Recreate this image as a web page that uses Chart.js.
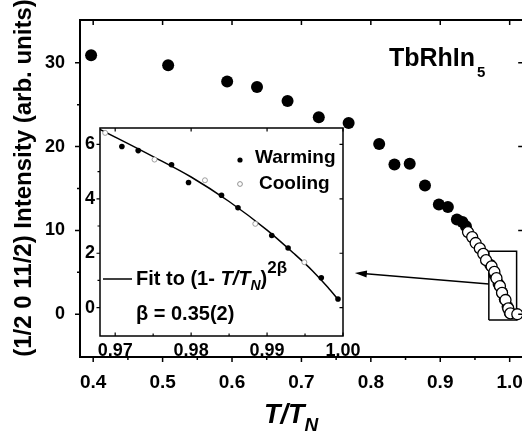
<!DOCTYPE html>
<html>
<head>
<meta charset="utf-8">
<script src="https://cdn.jsdelivr.net/npm/chart.js@4.4.1/dist/chart.umd.min.js"></script>
<style>
    html, body { margin: 0; padding: 0; background: #fff; overflow: hidden; }
    #wrap { position: relative; width: 522px; height: 443px; overflow: hidden; }
    #mainChart { position: absolute; left: 0; top: 0; width: 530px; height: 443px; }
    #insetChart { position: absolute; left: 60px; top: 110px; width: 300px; height: 260px; }
</style>
</head>
<body>
<div id="wrap">
    <canvas id="mainChart" width="530" height="443"></canvas>
    <canvas id="insetChart" width="300" height="260"></canvas>
</div>
<script>
// main panel, T/TN vs intensity
const mainWarmX = [0.397, 0.508, 0.593, 0.636, 0.680, 0.725, 0.768, 0.812, 0.834, 0.856, 0.878,
    0.898, 0.911, 0.924, 0.932, 0.937, 0.972, 0.978, 0.984, 0.989, 0.993, 0.997, 1.000];
const mainWarmY = [30.9, 29.7, 27.75, 27.1, 25.45, 23.5, 22.8, 20.3, 17.85, 17.95, 15.35,
    13.1, 12.8, 11.3, 11.0, 10.5, 5.9, 4.7, 3.6, 2.6, 1.8, 0.9, 0.2];
const mainCoolX = [0.940, 0.946, 0.951, 0.957, 0.962, 0.966, 0.974, 0.978, 0.981, 0.986,
    0.989, 0.994, 0.998, 1.001, 1.011];
const mainCoolY = [9.8, 9.2, 8.5, 7.85, 7.2, 6.45, 5.7, 5.05, 4.3, 3.35, 2.55, 1.7, 0.7, 0.1, 0.0];

// zoom box and arrow on the main panel
const boxX = [0.970, 1.010, 1.010, 0.970, 0.970];
const boxY = [-0.7, -0.7, 7.5, 7.5, -0.7];
const arrowX = [0.970, 0.777];
const arrowY = [3.6, 4.93];

const mainXTicks = [0.4, 0.5, 0.6, 0.7, 0.8, 0.9, 1.0];
const mainXMinor = [0.45, 0.55, 0.65, 0.75, 0.85, 0.95];
const mainYTicks = [0, 10, 20, 30];
const mainYMinor = [-5, 5, 15, 25, 35];

// inset, close to T_N
const insetWarmX = [0.97088, 0.97303, 0.97742, 0.97966, 0.98400, 0.98617, 0.99062, 0.99277, 0.99714, 0.99934];
const insetWarmY = [5.92, 5.77, 5.25, 4.60, 4.13, 3.67, 2.65, 2.19, 1.10, 0.32];
const insetCoolX = [0.96868, 0.97518, 0.98182, 0.98845, 0.99491];
const insetCoolY = [6.42, 5.44, 4.68, 3.08, 1.67];
const fitX = [0.9680, 0.9750, 0.9800, 0.9850, 0.9900, 0.9935, 0.9960, 0.9980, 0.9995];
const fitY = [6.55, 5.55, 4.80, 3.90, 2.85, 2.00, 1.35, 0.75, 0.25];

const insetXTicks = [0.97, 0.98, 0.99, 1.00];
const insetXMinor = [0.975, 0.985, 0.995];
const insetYTicks = [0, 2, 4, 6];
const insetYMinor = [1, 3, 5];

const FONT = "'Liberation Sans', Arial, sans-serif";

function pts(xs, ys) {
    return xs.map((x, i) => ({x: x, y: ys[i]}));
}

// fixed axis size, and no extra room for the end labels
function fixSize(prop, size) {
    return s => {
        s[prop] = size;
        s.paddingLeft = s.paddingRight = s.paddingTop = s.paddingBottom = 0;
    };
}

// box with ticks, drawn from the scales
const frameTicks = {
    id: 'frameTicks',
    afterDraw(chart, args, o) {
        const ctx = chart.ctx, a = chart.chartArea;
        const xs = chart.scales.x, ys = chart.scales.y;
        ctx.save();
        ctx.strokeStyle = '#000';
        ctx.lineWidth = o.frameWidth;
        ctx.strokeRect(a.left, a.top, a.right - a.left, a.bottom - a.top);
        ctx.lineWidth = o.tickWidth;
        ctx.beginPath();
        const seg = (x1, y1, x2, y2) => { ctx.moveTo(x1, y1); ctx.lineTo(x2, y2); };
        o.xMajor.forEach(v => {
            const p = xs.getPixelForValue(v);
            seg(p, a.bottom, p, a.bottom + o.bottomDir * o.major);
            seg(p, a.top, p, a.top + o.major);
        });
        o.xMinor.forEach(v => {
            const p = xs.getPixelForValue(v);
            seg(p, a.bottom, p, a.bottom + o.bottomDir * o.minor);
        });
        o.yMajor.forEach(v => {
            const p = ys.getPixelForValue(v);
            seg(a.left, p, a.left - o.major, p);
            seg(a.right, p, a.right - o.major, p);
        });
        o.yMinor.forEach(v => {
            const p = ys.getPixelForValue(v);
            if (p > a.top + 1 && p < a.bottom - 1) seg(a.left, p, a.left - o.minor, p);
        });
        ctx.stroke();
        ctx.restore();
    }
};

// arrow + labels on the main panel
const mainDecor = {
    id: 'mainDecor',
    afterDatasetsDraw(chart) {
        const ctx = chart.ctx, xs = chart.scales.x, ys = chart.scales.y;
        ctx.save();
        const x0 = xs.getPixelForValue(arrowX[0]), y0 = ys.getPixelForValue(arrowY[0]);
        const x1 = xs.getPixelForValue(arrowX[1]), y1 = ys.getPixelForValue(arrowY[1]);
        const ang = Math.atan2(y1 - y0, x1 - x0);
        ctx.strokeStyle = '#000';
        ctx.fillStyle = '#000';
        ctx.lineWidth = 1.5;
        ctx.beginPath();
        ctx.moveTo(x0, y0);
        ctx.lineTo(x1 - 8 * Math.cos(ang), y1 - 8 * Math.sin(ang));
        ctx.stroke();
        ctx.translate(x1, y1);
        ctx.rotate(ang);
        ctx.beginPath();
        ctx.moveTo(0, 0);
        ctx.lineTo(-12, -3.5);
        ctx.lineTo(-12, 3.5);
        ctx.closePath();
        ctx.fill();
        ctx.restore();

        ctx.save();
        ctx.fillStyle = '#000';
        ctx.textBaseline = 'alphabetic';
        ctx.font = 'bold 25px ' + FONT;
        ctx.fillText('TbRhIn', 389, 66);
        let w = ctx.measureText('TbRhIn').width;
        ctx.font = 'bold 15px ' + FONT;
        ctx.fillText('5', 389 + w + 2, 77);

        ctx.font = 'italic bold 27px ' + FONT;
        ctx.fillText('T/T', 264, 423);
        w = ctx.measureText('T/T').width;
        ctx.font = 'italic bold 19px ' + FONT;
        ctx.fillText('N', 264 + w, 431);

        // y axis title
        ctx.translate(24, 178);
        ctx.rotate(-Math.PI / 2);
        ctx.textAlign = 'center';
        ctx.textBaseline = 'middle';
        ctx.font = 'bold 24px ' + FONT;
        ctx.fillText('(1/2 0 11/2) Intensity (arb. units)', 0, 0);
        ctx.restore();
    }
};

// legend + fit text in the inset
const insetDecor = {
    id: 'insetDecor',
    afterDraw(chart) {
        const ctx = chart.ctx;
        const ox = 60, oy = 110;   // inset canvas offset on the page
        ctx.save();
        ctx.translate(-ox, -oy);
        ctx.fillStyle = '#000';
        ctx.strokeStyle = '#000';
        ctx.beginPath();
        ctx.arc(240, 160, 2.6, 0, Math.PI * 2);
        ctx.fill();
        ctx.lineWidth = 0.8;
        ctx.strokeStyle = '#777';
        ctx.beginPath();
        ctx.arc(240, 184, 2.4, 0, Math.PI * 2);
        ctx.stroke();

        ctx.font = 'bold 19px ' + FONT;
        ctx.textBaseline = 'alphabetic';
        ctx.fillText('Warming', 255, 163);
        ctx.fillText('Cooling', 259, 189);

        ctx.strokeStyle = '#000';
        ctx.lineWidth = 1.5;
        ctx.beginPath();
        ctx.moveTo(103, 279);
        ctx.lineTo(132, 279);
        ctx.stroke();
        let x = 136;
        ctx.font = 'bold 20px ' + FONT;
        ctx.fillText('Fit to (1- ', x, 285);
        x += ctx.measureText('Fit to (1- ').width;
        ctx.font = 'italic bold 20px ' + FONT;
        ctx.fillText('T/T', x, 285);
        x += ctx.measureText('T/T').width;
        ctx.font = 'italic bold 14px ' + FONT;
        ctx.fillText('N', x, 290);
        x += ctx.measureText('N').width;
        ctx.font = 'bold 20px ' + FONT;
        ctx.fillText(')', x, 285);
        x += ctx.measureText(')').width;
        ctx.font = 'bold 17px ' + FONT;
        ctx.fillText('2\u03B2', x, 273);

        ctx.font = 'bold 20px ' + FONT;
        ctx.fillText('\u03B2 = 0.35(2)', 136, 320);
        ctx.restore();
    }
};

const mainData = {
    datasets: [
        {
            label: 'Cooling',
            data: pts(mainCoolX, mainCoolY),
            showLine: false,
            pointRadius: 5.5,
            pointBackgroundColor: '#fff',
            pointBorderColor: '#000',
            pointBorderWidth: 1.3,
            order: 1
        },
        {
            label: 'Warming',
            data: pts(mainWarmX, mainWarmY),
            showLine: false,
            pointRadius: 6,
            pointBackgroundColor: '#000',
            pointBorderColor: '#000',
            pointBorderWidth: 0,
            order: 2
        },
        {
            label: 'box',
            data: pts(boxX, boxY),
            showLine: true,
            borderColor: '#000',
            borderWidth: 1.5,
            pointRadius: 0,
            fill: false,
            order: 3
        }
    ]
};

const mainConfig = {
    type: 'scatter',
    data: mainData,
    options: {
        responsive: false,
        animation: false,
        events: [],
        layout: { padding: { left: 0, top: 20, right: 6, bottom: 0 } },
        plugins: {
            legend: { display: false },
            tooltip: { enabled: false },
            frameTicks: {
                frameWidth: 2, tickWidth: 1.5, major: 5, minor: 3, bottomDir: 1,
                xMajor: mainXTicks, xMinor: mainXMinor, yMajor: mainYTicks, yMinor: mainYMinor
            }
        },
        scales: {
            x: {
                type: 'linear',
                min: 0.381,
                max: 1.0195,
                afterBuildTicks: s => { s.ticks = mainXTicks.map(v => ({value: v})); },
                afterFit: fixSize('height', 86),
                grid: { display: false, drawTicks: false },
                border: { display: false },
                ticks: {
                    color: '#000',
                    padding: 14,
                    maxRotation: 0,
                    font: { family: FONT, size: 19, weight: 'bold' },
                    callback: v => v.toFixed(1)
                }
            },
            y: {
                type: 'linear',
                min: -5.1,
                max: 35.1,
                afterBuildTicks: s => { s.ticks = mainYTicks.map(v => ({value: v})); },
                afterFit: fixSize('width', 80),
                grid: { display: false, drawTicks: false },
                border: { display: false },
                ticks: {
                    color: '#000',
                    padding: 15,
                    font: { family: FONT, size: 18, weight: 'bold' }
                }
            }
        }
    },
    plugins: [frameTicks, mainDecor]
};

const insetConfig = {
    type: 'scatter',
    data: {
        datasets: [
            {
                label: 'Warming',
                data: pts(insetWarmX, insetWarmY),
                showLine: false,
                pointRadius: 2.8,
                pointBackgroundColor: '#000',
                pointBorderColor: '#000',
                pointBorderWidth: 0
            },
            {
                label: 'Cooling',
                data: pts(insetCoolX, insetCoolY),
                showLine: false,
                pointRadius: 2.5,
                pointBackgroundColor: '#fff',
                pointBorderColor: '#888',
                pointBorderWidth: 0.8
            },
            {
                label: 'Fit',
                data: pts(fitX, fitY),
                showLine: true,
                borderColor: '#000',
                borderWidth: 1.5,
                pointRadius: 0,
                cubicInterpolationMode: 'monotone',
                order: 3
            }
        ]
    },
    options: {
        responsive: false,
        animation: false,
        events: [],
        layout: { padding: { left: 0, top: 18, right: 17, bottom: 0 } },
        plugins: {
            legend: { display: false },
            tooltip: { enabled: false },
            frameTicks: {
                frameWidth: 1.5, tickWidth: 1.2, major: 3.5, minor: 2.5, bottomDir: -1,
                xMajor: insetXTicks, xMinor: insetXMinor, yMajor: insetYTicks, yMinor: insetYMinor
            }
        },
        scales: {
            x: {
                type: 'linear',
                min: 0.968,
                max: 1.0,
                afterBuildTicks: s => { s.ticks = insetXTicks.map(v => ({value: v})); },
                afterFit: fixSize('height', 34),
                grid: { display: false, drawTicks: false },
                border: { display: false },
                ticks: {
                    color: '#000',
                    padding: 4,
                    maxRotation: 0,
                    font: { family: FONT, size: 18, weight: 'bold' },
                    callback: v => v.toFixed(2)
                }
            },
            y: {
                type: 'linear',
                min: -1.04,
                max: 6.6,
                afterBuildTicks: s => { s.ticks = insetYTicks.map(v => ({value: v})); },
                afterFit: fixSize('width', 40),
                grid: { display: false, drawTicks: false },
                border: { display: false },
                ticks: {
                    color: '#000',
                    padding: 5,
                    font: { family: FONT, size: 18, weight: 'bold' }
                }
            }
        }
    },
    plugins: [frameTicks, insetDecor]
};

new Chart(document.getElementById('mainChart'), mainConfig);
new Chart(document.getElementById('insetChart'), insetConfig);
</script>
</body>
</html>
